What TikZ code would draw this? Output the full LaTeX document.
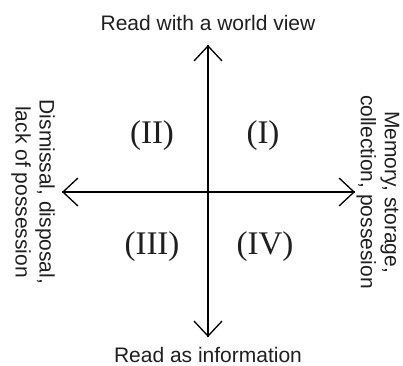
\documentclass[tikz,border=0pt]{standalone}
\usepackage{fontspec}
\setmainfont{Liberation Sans}
\newfontfamily\quadfont{Liberation Serif}
\usetikzlibrary{arrows.meta}
\tikzset{
  axis/.style={line width=1.3pt, -{Straight Barb[length=15pt,width=28pt,line width=1.3pt]}},
  axislabel/.style={inner sep=0pt, font=\fontsize{21}{24}\selectfont, text=black!88},
  sidelabel/.style={axislabel, rotate=-90, align=center},
  quad/.style={inner sep=0pt, font=\quadfont\fontsize{33}{36}\selectfont, text=black!88}
}
\begin{document}
\begin{tikzpicture}[x=1pt,y=-1pt]
\useasboundingbox (0,0) rectangle (403,365);
\coordinate (c) at (208,192);
\coordinate (top) at (208,45);
\coordinate (bot) at (208,337);
\coordinate (lft) at (62,192);
\coordinate (rgt) at (355,192);
\draw[axis] (c |- bot) -- (top);
\draw[axis] (c |- top) -- (bot);
\draw[axis] (rgt |- c) -- (lft);
\draw[axis] (lft |- c) -- (rgt);
\node[axislabel, anchor=base] (tl) at (208,30) {Read with a world view};
\node[axislabel, anchor=base] (bl) at (208,362) {Read as information};
\node[sidelabel] (ll) at (33,192) {Dismissal, disposal,\\lack of possession};
\node[sidelabel] (rl) at (378,192) {Memory, storage,\\collection, possesion};
\node[quad] (q1) at (263,136) {(I)};
\node[quad] (q2) at (152,136) {(II)};
\node[quad] (q3) at (152,247) {(III)};
\node[quad] (q4) at (265,247) {(IV)};
\end{tikzpicture}
\end{document}
